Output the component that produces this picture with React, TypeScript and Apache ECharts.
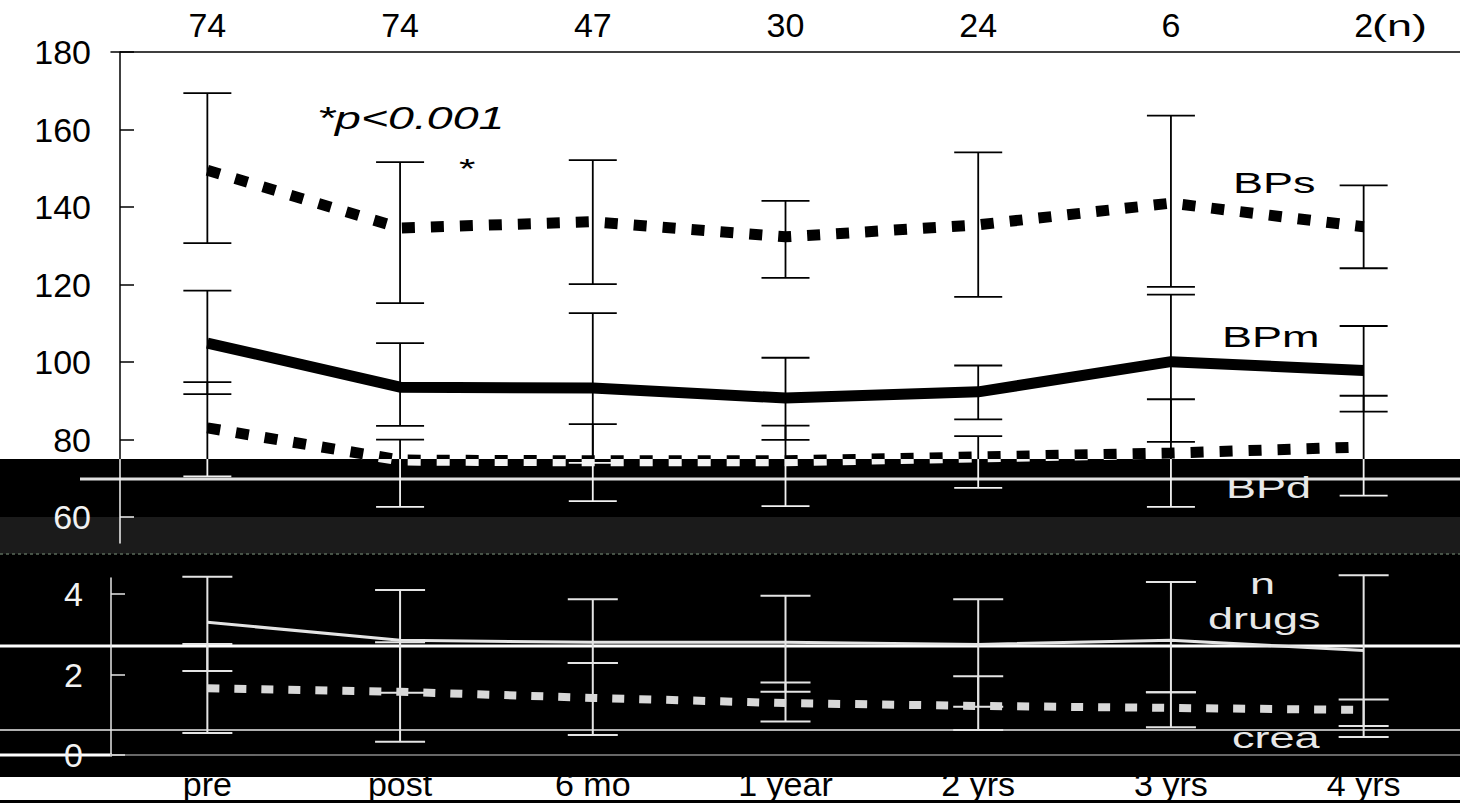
import React, { useEffect, useRef } from "react";
import * as echarts from "echarts";

// ---------------- data ----------------
const categories = ["pre", "post", "6 mo", "1 year", "2 yrs", "3 yrs", "4 yrs"];
const nCounts = ["74", "74", "47", "30", "24", "6", "2"];

const bpsMean = [149.5, 134.6, 136.2, 132.3, 135.4, 141.0, 134.9];
const bpsHigh = [169.4, 151.6, 152.1, 141.6, 154.1, 163.6, 145.6];
const bpsLow = [130.7, 115.2, 120.1, 121.7, 116.8, 119.4, 124.2];

const bpmMean = [104.9, 93.5, 93.3, 90.7, 92.3, 100.1, 97.8];
const bpmHigh = [118.4, 104.9, 112.6, 101.1, 99.1, 117.4, 109.3];
const bpmLow = [91.7, 83.5, 74.0, 79.9, 85.2, 79.4, 87.2];

const bpdMean = [83.0, 74.7, 74.5, 74.5, 75.5, 76.5, 78.1];
const bpdHigh = [94.8, 80.0, 84.0, 83.6, 80.9, 90.4, 91.3];
const bpdLow = [70.5, 62.6, 64.1, 62.8, 67.5, 62.6, 65.5];

const drugsMean = [3.3, 2.85, 2.8, 2.8, 2.75, 2.85, 2.6];
const drugsHigh = [4.43, 4.1, 3.87, 3.96, 3.87, 4.3, 4.47];
const drugsLow = [2.09, 1.55, 2.29, 1.57, 1.2, 1.56, 0.45];

const creaMean = [1.66, 1.57, 1.42, 1.29, 1.22, 1.17, 1.12];
const creaHigh = [2.76, 2.8, 2.29, 1.8, 1.96, 1.56, 1.38];
const creaLow = [0.55, 0.33, 0.5, 0.83, 0.62, 0.69, 0.72];

const topTicks = [60, 80, 100, 120, 140, 160, 180];
const bottomTicks = [0, 2, 4];

// ---------------- helpers ----------------
const FONT = "Liberation Sans";
const SPLIT_Y = 459;

function topColor() {
  return new echarts.graphic.LinearGradient(
    0,
    SPLIT_Y - 1,
    0,
    SPLIT_Y + 1,
    [
      { offset: 0, color: "#000" },
      { offset: 0.5, color: "#000" },
      { offset: 0.5, color: "#f2f2f2" },
      { offset: 1, color: "#f2f2f2" },
    ],
    true
  );
}

function errorBars(
  name: string,
  xAxisIndex: number,
  yAxisIndex: number,
  low: number[],
  high: number[],
  colorFn: () => any,
  width: number,
  capHalf: number
) {
  return {
    type: "custom",
    name,
    xAxisIndex,
    yAxisIndex,
    silent: true,
    z: 3,
    encode: { x: 0, y: [1, 2] },
    data: categories.map((_, i) => [i, low[i], high[i]]),
    renderItem: (_params: any, api: any) => {
      const i = api.value(0);
      const lo = api.coord([i, api.value(1)]);
      const hi = api.coord([i, api.value(2)]);
      const x = lo[0];
      const mk = (x1: number, y1: number, x2: number, y2: number) => ({
        type: "line",
        shape: { x1, y1, x2, y2 },
        style: { stroke: colorFn(), lineWidth: width, fill: null },
      });
      return {
        type: "group",
        children: [
          mk(x, lo[1], x, hi[1]),
          mk(x - capHalf, lo[1], x + capHalf, lo[1]),
          mk(x - capHalf, hi[1], x + capHalf, hi[1]),
        ],
      };
    },
  };
}

function label(
  text: string,
  x: number,
  y: number,
  color: string,
  extra: any = {}
) {
  return {
    type: "text",
    x,
    y,
    scaleX: 1.5,
    z: 10,
    silent: true,
    style: {
      text,
      fill: color,
      fontFamily: FONT,
      fontSize: 30,
      verticalAlign: "middle",
      align: "left",
      ...extra,
    },
  };
}

export default function App() {
  const ref = useRef<HTMLDivElement>(null);

  useEffect(() => {
    if (!ref.current) return;
    const chart = echarts.init(ref.current, undefined, { renderer: "svg" });

    const option: any = {
      animation: false,
      backgroundColor: "#fff",
      grid: [
        { left: 111, width: 1350, top: 52, height: 491 },
        { left: 111, width: 1350, top: 578, height: 177 },
      ],
      xAxis: [
        {
          gridIndex: 0,
          type: "category",
          position: "top",
          data: nCounts,
          boundaryGap: true,
          axisLine: { show: true, lineStyle: { color: "#000", width: 1.5 } },
          axisTick: { show: false },
          axisLabel: {
            color: "#000",
            fontFamily: FONT,
            fontSize: 34,
            margin: 10,
          },
          splitLine: { show: false },
        },
        {
          gridIndex: 1,
          type: "category",
          position: "bottom",
          data: categories,
          boundaryGap: true,
          axisLine: { show: true, lineStyle: { color: "#8a8a8a", width: 1.5 } },
          axisTick: { show: false },
          axisLabel: {
            color: "#000",
            fontFamily: FONT,
            fontSize: 34,
            margin: 12,
          },
          splitLine: { show: false },
        },
      ],
      yAxis: [
        {
          gridIndex: 0,
          type: "value",
          min: 53.3,
          max: 180,
          offset: -9,
          axisLine: { show: true, lineStyle: { color: topColor(), width: 1.5 } },
          axisTick: {
            show: true,
            inside: true,
            length: 14,
            customValues: topTicks,
            lineStyle: { color: topColor(), width: 1.5 },
          },
          axisLabel: {
            customValues: topTicks,
            fontFamily: FONT,
            fontSize: 34,
            margin: 29,
            color: (v: any) => (Number(v) < 70 ? "#f2f2f2" : "#000"),
          },
          splitLine: { show: false },
        },
        {
          gridIndex: 1,
          type: "value",
          min: 0,
          max: 4.4,
          axisLine: { show: true, lineStyle: { color: "#e6e6e6", width: 1.5 } },
          axisTick: {
            show: true,
            inside: true,
            length: 14,
            customValues: bottomTicks,
            lineStyle: { color: "#e6e6e6", width: 1.5 },
          },
          axisLabel: {
            customValues: bottomTicks,
            fontFamily: FONT,
            fontSize: 34,
            margin: 28,
            color: "#f2f2f2",
          },
          splitLine: { show: false },
        },
      ],
      graphic: {
        elements: [
          {
            type: "rect",
            z: -20,
            silent: true,
            shape: { x: 0, y: SPLIT_Y, width: 1460, height: 803 - SPLIT_Y },
            style: { fill: "#000" },
          },
          {
            type: "rect",
            z: -19,
            silent: true,
            shape: { x: 0, y: 517, width: 1460, height: 37 },
            style: { fill: "#1b1b1b" },
          },
          {
            type: "rect",
            z: -18,
            silent: true,
            shape: { x: 0, y: 777, width: 1460, height: 23 },
            style: { fill: "#fff" },
          },
          {
            type: "line",
            z: -15,
            silent: true,
            shape: { x1: 80, y1: 479, x2: 1460, y2: 479 },
            style: { stroke: "#e0e0e0", lineWidth: 3 },
          },
          {
            type: "line",
            z: -15,
            silent: true,
            shape: { x1: 0, y1: 554, x2: 1460, y2: 554 },
            style: { stroke: "#5a6a5a", lineWidth: 1.5, lineDash: [3, 3] },
          },
          {
            type: "line",
            z: -15,
            silent: true,
            shape: { x1: 0, y1: 646, x2: 1460, y2: 646 },
            style: { stroke: "#fff", lineWidth: 3 },
          },
          {
            type: "line",
            z: -15,
            silent: true,
            shape: { x1: 0, y1: 730, x2: 1460, y2: 730 },
            style: { stroke: "#b0b0b0", lineWidth: 2 },
          },
          {
            type: "line",
            z: -15,
            silent: true,
            shape: { x1: 0, y1: 755, x2: 112, y2: 755 },
            style: { stroke: "#fff", lineWidth: 3 },
          },
          label("(n)", 1372, 25, "#000"),
          label("*p<0.001", 317, 118, "#000", { fontStyle: "italic", fontSize: 31 }),
          label("*", 459, 169, "#000", { fontSize: 28 }),
          label("BPs", 1233, 182, "#000"),
          label("BPm", 1222, 336, "#000"),
          label("BPd", 1226, 487, "#e8e8e8"),
          label("n", 1250, 583, "#e8e8e8"),
          label("drugs", 1208, 618, "#e8e8e8"),
          label("crea", 1232, 737, "#e8e8e8"),
        ],
      },
      series: [
        {
          name: "BPs",
          type: "line",
          xAxisIndex: 0,
          yAxisIndex: 0,
          data: bpsMean,
          symbol: "none",
          z: 4,
          lineStyle: { color: topColor(), width: 11, type: [13, 16], cap: "butt" },
        },
        {
          name: "BPm",
          type: "line",
          xAxisIndex: 0,
          yAxisIndex: 0,
          data: bpmMean,
          symbol: "none",
          z: 4,
          lineStyle: { color: topColor(), width: 11, type: "solid" },
        },
        {
          name: "BPd",
          type: "line",
          xAxisIndex: 0,
          yAxisIndex: 0,
          data: bpdMean,
          symbol: "none",
          z: 4,
          lineStyle: { color: topColor(), width: 11, type: [13, 16], cap: "butt" },
        },
        errorBars("BPs SD", 0, 0, bpsLow, bpsHigh, topColor, 1.8, 24),
        errorBars("BPm SD", 0, 0, bpmLow, bpmHigh, topColor, 1.8, 24),
        errorBars("BPd SD", 0, 0, bpdLow, bpdHigh, topColor, 1.8, 24),
        {
          name: "n drugs",
          type: "line",
          xAxisIndex: 1,
          yAxisIndex: 1,
          data: drugsMean,
          symbol: "none",
          z: 4,
          lineStyle: { color: "#e4e4e4", width: 3, type: "solid" },
        },
        {
          name: "crea",
          type: "line",
          xAxisIndex: 1,
          yAxisIndex: 1,
          data: creaMean,
          symbol: "none",
          z: 4,
          lineStyle: { color: "#d8d8d8", width: 8, type: [12, 15], cap: "butt" },
        },
        errorBars("n drugs SD", 1, 1, drugsLow, drugsHigh, () => "#e4e4e4", 2, 25),
        errorBars("crea SD", 1, 1, creaLow, creaHigh, () => "#e4e4e4", 2, 25),
      ],
    };

    chart.setOption(option);
    return () => {
      chart.dispose();
    };
  }, []);

  return (
    <div
      ref={ref}
      style={{
        position: "fixed",
        left: 0,
        top: 0,
        width: 1460,
        height: 803,
        background: "#fff",
      }}
    />
  );
}
